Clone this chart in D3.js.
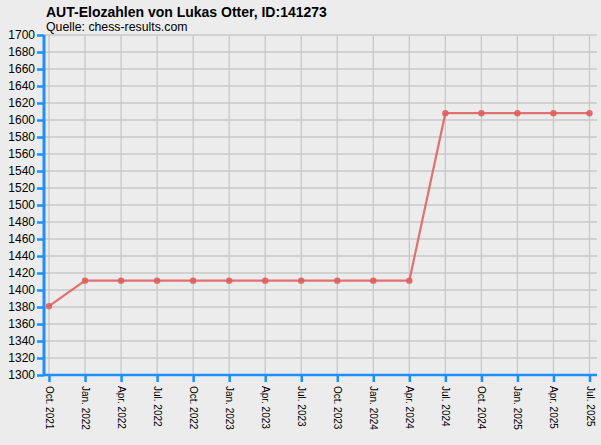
<!DOCTYPE html>
<html>
<head>
<meta charset="utf-8">
<script src="https://cdn.jsdelivr.net/npm/d3@7"></script>
<style>
  body { margin: 0; background: #ececec; }
  svg { display: block; font-family: "Liberation Sans", Arial, sans-serif; }
</style>
</head>
<body>
<svg id="chart" width="601" height="445"></svg>
<script>
// Datenpunkte (Stichtage und Elo)
var months = ["Oct. 2021", "Jan. 2022", "Apr. 2022", "Jul. 2022", "Oct. 2022",
  "Jan. 2023", "Apr. 2023", "Jul. 2023", "Oct. 2023", "Jan. 2024", "Apr. 2024",
  "Jul. 2024", "Oct. 2024", "Jan. 2025", "Apr. 2025", "Jul. 2025"];
var elo = [1381, 1411, 1411, 1411, 1411, 1411, 1411, 1411, 1411, 1411, 1411,
  1608, 1608, 1608, 1608, 1608];
var yTicks = d3.range(1300, 1701, 20);

var title = "AUT-Elozahlen von Lukas Otter, ID:141273";
var subtitle = "Quelle: chess-results.com";

var svg = d3.select("#chart");
var pLeft = 44, pRight = 597, pTop = 35, pBottom = 375;

var x = d3.scalePoint().domain(months).range([49, 589.5]);
var y = d3.scaleLinear().domain([1300, 1700]).range([pBottom, pTop]);

svg.append("rect").attr("width", 601).attr("height", 445).attr("fill", "#ececec");

// Gitter
var grid = svg.append("g").attr("stroke", "#c8c8c8").attr("stroke-width", 1.3);
grid.selectAll(".h").data(yTicks).enter().append("line")
  .attr("x1", pLeft).attr("x2", pRight)
  .attr("y1", (d) => y(d)).attr("y2", (d) => y(d));
grid.selectAll(".v").data(months).enter().append("line")
  .attr("x1", (d) => x(d)).attr("x2", (d) => x(d))
  .attr("y1", pTop).attr("y2", pBottom);

// Achsen
var yAxis = svg.append("g")
  .attr("transform", `translate(${pLeft},0)`)
  .call(d3.axisLeft(y).tickValues(yTicks).tickSize(7).tickPadding(2).tickFormat(d3.format("d")));
var xAxis = svg.append("g")
  .attr("transform", `translate(0,${pBottom})`)
  .call(d3.axisBottom(x).tickSize(7).tickSizeOuter(0));

yAxis.select(".domain").attr("stroke", "#1e8fff").attr("stroke-width", 3)
  .attr("d", `M0,${pTop}V${pBottom + 1}`);
yAxis.selectAll(".tick line").attr("stroke", "#1e8fff").attr("stroke-width", 2.5);
yAxis.selectAll(".tick text").attr("font-size", 12).attr("fill", "#000")
  .attr("font-family", "Liberation Sans, Arial, sans-serif");

xAxis.select(".domain").attr("stroke", "#1e8fff").attr("stroke-width", 2.5)
  .attr("d", `M${pLeft},0H${pRight}`);
xAxis.selectAll(".tick line").attr("stroke", "#1e8fff").attr("stroke-width", 2.5);
xAxis.selectAll(".tick text")
  .attr("font-size", 10).attr("fill", "#000")
  .attr("font-family", "Liberation Sans, Arial, sans-serif")
  .attr("text-anchor", "start")
  .attr("transform", "translate(0,11) rotate(90)")
  .attr("x", 0).attr("y", 0).attr("dy", "0.35em");

// Linie und Punkte
var line = d3.line().x((d, i) => x(months[i])).y((d) => y(d));
svg.append("path").datum(elo)
  .attr("fill", "none").attr("stroke", "#e06464").attr("stroke-width", 2.2)
  .attr("stroke-opacity", 0.9).attr("d", line);
svg.selectAll(".pt").data(elo).enter().append("circle")
  .attr("cx", (d, i) => x(months[i])).attr("cy", (d) => y(d))
  .attr("r", 3.2).attr("fill", "#de5f5f").attr("fill-opacity", 0.9);

// Titel
svg.append("text").attr("x", 46).attr("y", 17)
  .attr("font-size", 14).attr("font-weight", "bold").text(title);
svg.append("text").attr("x", 46).attr("y", 31)
  .attr("font-size", 12.3).text(subtitle);
</script>
</body>
</html>
